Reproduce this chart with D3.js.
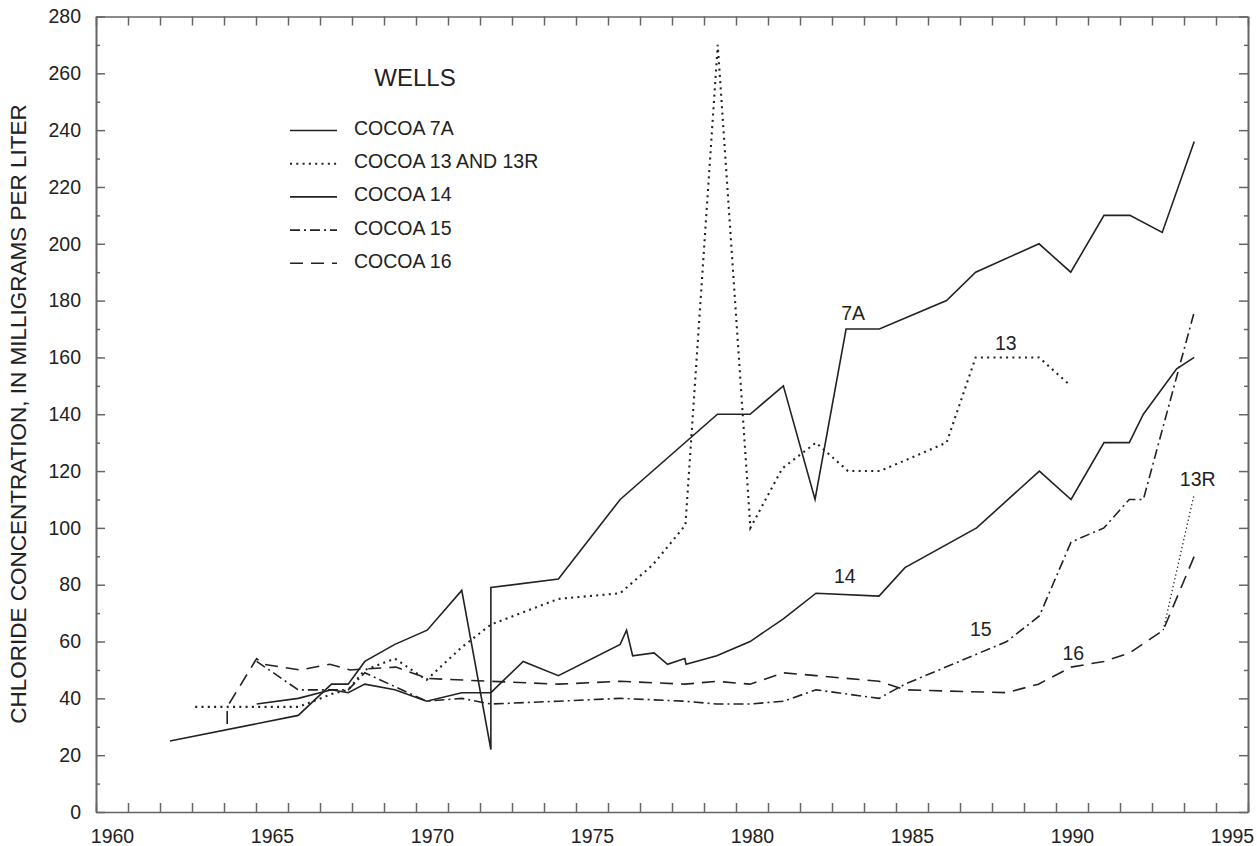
<!DOCTYPE html>
<html><head><meta charset="utf-8">
<script src="https://cdn.jsdelivr.net/npm/d3@7"></script>
<style>
body{margin:0;background:#fff}
svg text{font-family:"Liberation Sans",Arial,Helvetica,sans-serif;fill:#222}
</style>
</head><body>
<svg id="chart" width="1257" height="846"></svg>
<script>
// ---- data (decimal year, chloride mg/L) ----
const cocoa7A = [[1962.31,25],[1966.32,34],[1967.36,45],[1967.88,45],[1968.4,53],[1969.34,59],[1970.35,64],[1971.43,78],[1972.34,22],[1972.34,79],[1974.45,82],[1976.38,110],[1979.42,140],[1980.44,140],[1981.48,150],[1982.47,110],[1983.44,170],[1984.48,170],[1986.58,180],[1987.49,190],[1989.47,200],[1990.46,190],[1991.5,210],[1992.31,210],[1993.32,204],[1994.32,236]];
const cocoa13 = [[1963.1,37],[1966.32,37],[1967.36,41.5],[1967.88,43],[1968.4,50],[1969.34,54],[1970.33,46.5],[1971.43,58],[1972.34,66],[1974.45,75],[1976.38,77],[1977.4,87],[1978.42,101],[1979.43,270],[1980.45,100],[1981.45,121],[1982.5,130],[1983.5,120],[1984.5,120],[1986.58,130],[1987.49,160],[1989.47,160],[1990.46,150]];
const cocoa13R = [[1993.35,64],[1994.32,112]];
const cocoa14 = [[1965.02,38],[1966.32,40],[1967.36,43],[1967.88,42],[1968.4,45],[1969.34,43],[1970.33,39],[1971.43,42],[1972.34,42],[1973.35,53],[1974.45,48],[1976.38,59],[1976.58,64],[1976.77,55],[1977.44,56],[1977.86,52],[1978.4,54],[1978.44,52],[1979.4,55],[1980.44,60],[1981.48,68],[1982.5,77],[1984.47,76],[1985.28,86],[1987.52,100],[1989.48,120],[1990.47,110],[1991.5,130],[1992.29,130],[1992.73,140],[1993.77,156],[1994.32,160]];
const cocoa15 = [[1965.02,53],[1966.32,43],[1967.36,43],[1967.88,43],[1968.4,49],[1970.33,39],[1971.43,40],[1972.34,38],[1974.45,39],[1976.38,40],[1978.4,39],[1979.4,38],[1980.44,38],[1981.48,39],[1982.5,43],[1984.47,40],[1985.28,45],[1988.46,60],[1989.48,69],[1990.47,95],[1991.5,100],[1992.29,110],[1992.73,110],[1994.32,176]];
const cocoa16 = [[1964.1,31],[1964.1,37],[1965.02,54],[1965.25,52],[1966.38,50],[1967.31,52],[1967.94,50],[1969.37,51],[1970.37,47],[1972.34,46],[1974.45,45],[1976.38,46],[1978.4,45],[1979.4,46],[1980.44,45],[1981.48,49],[1982.5,48],[1984.47,46],[1985.28,43],[1988.46,42],[1989.45,45],[1990.47,51],[1991.5,53],[1992.3,56],[1993.35,64],[1994.32,90]];

const xTickLabels = [1960,1965,1970,1975,1980,1985,1990,1995];
const xYearTicks = [1960,1961,1962,1963,1964,1965,1966,1967,1968,1969,1970,1971,1972,1973,1974,1975,1976,1977,1978,1979,1980,1981,1982,1983,1984,1985,1986,1987,1988,1989,1990,1991,1992,1993,1994,1995,1996];
const yTickLabels = [0,20,40,60,80,100,120,140,160,180,200,220,240,260,280];
const yMinorTicks = [10,30,50,70,90,110,130,150,170,190,210,230,250,270];

const legendNames = ["COCOA 7A","COCOA 13 AND 13R","COCOA 14","COCOA 15","COCOA 16"];
const lineLabels = [["7A",1983.66,175.5],["13",1988.43,165],["14",1983.4,83],["15",1987.65,64.3],["16",1990.54,56],["13R",1994.43,117.1]];

// ---- styles ----
const styles = {
  solid:   {w:1.6, dash:null},
  dotted:  {w:2.1, dash:"2 4.3"},
  fine:    {w:1.3, dash:"1.3 2.7"},
  dashdot: {w:1.6, dash:"10 4 2 4"},
  dashed:  {w:1.6, dash:"13 8"}
};
const seriesList = [
  {data:cocoa7A, s:"solid"},
  {data:cocoa13, s:"dotted"},
  {data:cocoa13R, s:"fine"},
  {data:cocoa14, s:"solid"},
  {data:cocoa15, s:"dashdot"},
  {data:cocoa16, s:"dashed"}
];
const legendStyles = ["solid","dotted","solid","dashdot","dashed"];

const svg = d3.select("#chart");
const x = d3.scaleLinear().domain([1960,1996]).range([96,1248]);
const y = d3.scaleLinear().domain([0,280]).range([812,16.5]);
const axisColor = "#666", inkColor = "#222", fs = "19.5px";

function styleAxis(g){
  g.attr("font-family",null).attr("font-size",null);
  g.selectAll(".domain").attr("stroke",axisColor).attr("stroke-width",1.6);
  g.selectAll(".tick line").attr("stroke",axisColor).attr("stroke-width",1.5);
  g.selectAll(".tick text").style("font-size",fs).attr("fill",inkColor);
}

// bottom ticks
svg.append("g").attr("transform","translate(0,812)")
  .call(d3.axisBottom(x).tickValues(xYearTicks).tickSize(-9).tickSizeOuter(0).tickFormat(""))
  .call(styleAxis);
// bottom labels (centered in year interval)
svg.append("g").attr("transform","translate(0,812)")
  .call(d3.axisBottom(x).tickValues(xTickLabels.map(d=>d+0.5)).tickSize(0).tickPadding(17).tickFormat(d=>String(Math.floor(d))))
  .call(styleAxis).call(g=>g.select(".domain").remove());
// top
svg.append("g").attr("transform","translate(0,16.5)")
  .call(d3.axisTop(x).tickValues(xYearTicks).tickSize(-9).tickSizeOuter(0).tickFormat(""))
  .call(styleAxis);
// left
svg.append("g").attr("transform","translate(96,0)")
  .call(d3.axisLeft(y).tickValues(yTickLabels).tickSize(-9).tickSizeOuter(0).tickPadding(15))
  .call(styleAxis);
svg.append("g").attr("transform","translate(96,0)")
  .call(d3.axisLeft(y).tickValues(yMinorTicks).tickSize(-4).tickSizeOuter(0).tickFormat(""))
  .call(styleAxis);
// right
svg.append("g").attr("transform","translate(1248,0)")
  .call(d3.axisRight(y).tickValues(yTickLabels).tickSize(-9).tickSizeOuter(0).tickFormat(""))
  .call(styleAxis);
svg.append("g").attr("transform","translate(1248,0)")
  .call(d3.axisRight(y).tickValues(yMinorTicks).tickSize(-4).tickSizeOuter(0).tickFormat(""))
  .call(styleAxis);

// y title
svg.append("text")
  .attr("transform","translate(26,414) rotate(-90)")
  .attr("text-anchor","middle")
  .style("font-size","22.5px")
  .text("CHLORIDE CONCENTRATION, IN MILLIGRAMS PER LITER");

// lines
const line = d3.line().x(d=>x(d[0])).y(d=>y(d[1]));
svg.append("g").selectAll("path").data(seriesList).join("path")
  .attr("d",d=>line(d.data))
  .attr("fill","none")
  .attr("stroke",inkColor)
  .attr("stroke-width",d=>styles[d.s].w)
  .attr("stroke-dasharray",d=>styles[d.s].dash)
  .attr("stroke-linejoin","miter")
  .attr("stroke-miterlimit",10);

// line labels
svg.append("g").selectAll("text").data(lineLabels).join("text")
  .attr("x",d=>x(d[1])).attr("y",d=>y(d[2]))
  .attr("text-anchor","middle").attr("dominant-baseline","central")
  .style("font-size",fs)
  .text(d=>d[0]);

// legend
svg.append("text").attr("x",415).attr("y",77).attr("text-anchor","middle")
  .attr("dominant-baseline","central").style("font-size","24px").text("WELLS");
const lg = svg.append("g");
legendNames.forEach((name,i)=>{
  const cy = 128 + i*33.2;
  const st = styles[legendStyles[i]];
  lg.append("line").attr("x1",290).attr("x2",337).attr("y1",cy+2.5).attr("y2",cy+2.5)
    .attr("stroke",inkColor).attr("stroke-width",st.w).attr("stroke-dasharray",st.dash);
  lg.append("text").attr("x",354).attr("y",cy).attr("dominant-baseline","central")
    .style("font-size",fs).text(name);
});
</script>
</body></html>
